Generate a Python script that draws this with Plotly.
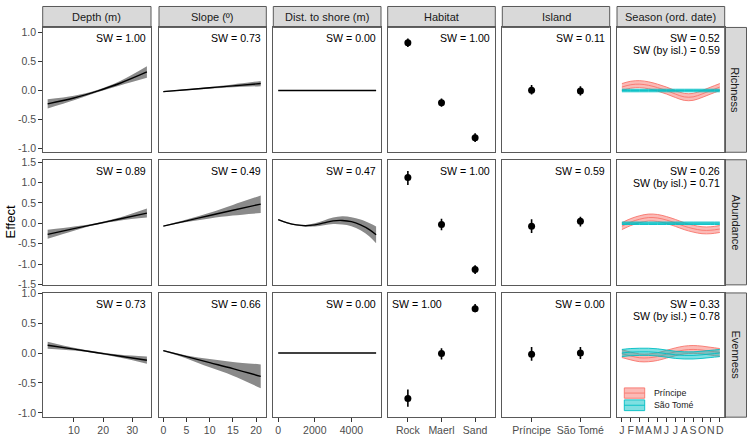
import plotly.graph_objects as go

# ---------------- data ----------------
col_titles = ["Depth (m)", "Slope (º)", "Dist. to shore (m)", "Habitat", "Island", "Season (ord. date)"]
row_titles = ["Richness", "Abundance", "Evenness"]

depth_x = [1, 10, 18, 26, 35]
depth_rich_fit = [-0.23, -0.13, -0.01, 0.13, 0.32]
depth_rich_lo = [-0.31, -0.17, -0.03, 0.09, 0.22]
depth_rich_hi = [-0.15, -0.09, 0.01, 0.17, 0.42]
depth_abund_fit = [-0.27, -0.13, -0.01, 0.11, 0.25]
depth_abund_lo = [-0.38, -0.18, -0.03, 0.07, 0.14]
depth_abund_hi = [-0.16, -0.08, 0.01, 0.15, 0.36]
depth_even_fit = [0.13, 0.065, 0.005, -0.055, -0.12]
depth_even_lo = [0.07, 0.04, -0.01, -0.08, -0.18]
depth_even_hi = [0.19, 0.09, 0.02, -0.03, -0.06]

slope_x = [0, 5, 10, 15, 21]
slope_rich_fit = [-0.02, 0.013, 0.047, 0.08, 0.12]
slope_rich_lo = [-0.03, 0.005, 0.03, 0.055, 0.075]
slope_rich_hi = [-0.01, 0.02, 0.06, 0.105, 0.165]
slope_abund_fit = [-0.07, 0.06, 0.19, 0.32, 0.47]
slope_abund_lo = [-0.08, 0.03, 0.12, 0.19, 0.25]
slope_abund_hi = [-0.06, 0.09, 0.26, 0.45, 0.68]
slope_even_fit = [0.04, -0.06, -0.16, -0.26, -0.39]
slope_even_lo = [0.03, -0.09, -0.24, -0.38, -0.59]
slope_even_hi = [0.05, -0.04, -0.10, -0.15, -0.19]

dist_x = [0, 500, 1000, 1500, 2000, 2500, 3000, 3500, 4000, 4500, 5000, 5350]
dist_rich_fit = [0, 0, 0, 0, 0, 0, 0, 0, 0, 0, 0, 0]
dist_abund_fit = [0.09, 0.01, -0.04, -0.06, -0.04, 0.01, 0.06, 0.07, 0.04, -0.04, -0.16, -0.28]
dist_abund_lo = [0.075, -0.005, -0.055, -0.08, -0.08, -0.05, -0.02, -0.03, -0.07, -0.17, -0.33, -0.49]
dist_abund_hi = [0.105, 0.025, -0.025, -0.04, 0.00, 0.07, 0.14, 0.17, 0.15, 0.09, 0.0, -0.08]
dist_even_fit = [0, 0, 0, 0, 0, 0, 0, 0, 0, 0, 0, 0]

habitat_cats = ["Rock", "Maerl", "Sand"]
hab_rich = [0.825, -0.21, -0.815]
hab_rich_lo = [0.75, -0.28, -0.89]
hab_rich_hi = [0.90, -0.14, -0.74]
hab_abund = [1.12, -0.03, -1.13]
hab_abund_lo = [0.94, -0.17, -1.24]
hab_abund_hi = [1.28, 0.11, -1.03]
hab_even = [-0.76, -0.01, 0.74]
hab_even_lo = [-0.90, -0.11, 0.68]
hab_even_hi = [-0.61, 0.08, 0.82]

island_cats = ["Príncipe", "São Tomé"]
isl_rich = [0.005, -0.01]
isl_rich_lo = [-0.07, -0.085]
isl_rich_hi = [0.095, 0.075]
isl_abund = [-0.07, 0.05]
isl_abund_lo = [-0.24, -0.08]
isl_abund_hi = [0.10, 0.16]
isl_even = [-0.02, 0.0]
isl_even_lo = [-0.13, -0.10]
isl_even_hi = [0.10, 0.10]

month_x = [1, 2, 3, 4, 5, 6, 7, 8, 9, 10, 11, 12]
month_labels = ["J", "F", "M", "A", "M", "J", "J", "A", "S", "O", "N", "D"]
seas_rich_pri = [0.06, 0.10, 0.11, 0.09, 0.05, 0.0, -0.06, -0.11, -0.11, -0.06, 0.0, 0.06]
seas_rich_pri_hw = 0.06
seas_rich_sao = [0, 0, 0, 0, 0, 0, 0, 0, 0, 0, 0, 0]
seas_rich_sao_hw = 0.022
seas_abund_pri = [-0.07, 0.03, 0.10, 0.14, 0.13, 0.08, 0.01, -0.07, -0.13, -0.17, -0.17, -0.14]
seas_abund_pri_hw = 0.085
seas_abund_sao = [0, 0, 0, 0, 0, 0, 0, 0, 0, 0, 0, 0]
seas_abund_sao_hw = 0.03
seas_even_pri = [-0.01, -0.05, -0.08, -0.08, -0.06, -0.02, 0.02, 0.05, 0.06, 0.05, 0.03, 0.01]
seas_even_pri_hw = 0.065
seas_even_sao = [0.0, 0.015, 0.02, 0.02, 0.01, -0.01, -0.03, -0.04, -0.04, -0.03, -0.015, 0.0]
seas_even_sao_hw = 0.06

sw_main = [["SW = 1.00", "SW = 0.73", "SW = 0.00", "SW = 1.00", "SW = 0.11", "SW = 0.52"],
           ["SW = 0.89", "SW = 0.49", "SW = 0.47", "SW = 1.00", "SW = 0.59", "SW = 0.26"],
           ["SW = 0.73", "SW = 0.66", "SW = 0.00", "SW = 1.00", "SW = 0.00", "SW = 0.33"]]
sw_isl = ["SW (by isl.) = 0.59", "SW (by isl.) = 0.71", "SW (by isl.) = 0.78"]

y_tickvals = [[-1.0, -0.5, 0.0, 0.5, 1.0],
              [-1.5, -1.0, -0.5, 0.0, 0.5, 1.0, 1.5],
              [-1.0, -0.5, 0.0, 0.5, 1.0]]
y_ticktext = [["-1.0", "-0.5", "0.0", "0.5", "1.0"],
              ["-1.5", "-1.0", "-0.5", "0.0", "0.5", "1.0", "1.5"],
              ["-1.0", "-0.5", "0.0", "0.5", "1.0"]]
depth_ticks = [10, 20, 30]
slope_ticks = [0, 5, 10, 15, 20]
dist_ticks = [0, 2000, 4000]

# ---------------- layout geometry ----------------
W, H = 747, 440
FONT = "Liberation Sans, Arial, sans-serif"
BORDER = "#595959"
TICKC = "#4D4D4D"
PRI = "#F8766D"
SAO = "#00BFC4"
col_px = [(42.7, 151), (159, 266.3), (273.3, 381), (387.7, 495.3), (502.3, 609.7), (617, 724.7)]
row_px = [(22, 150), (157.7, 286), (294.3, 421.7)]
yranges = [[-1.066, 1.089], [-1.507, 1.555], [-1.072, 1.004]]
xranges = [[-0.7, 36.4], [-0.93, 22.2], [-267, 5617], [-0.6, 2.6], [-0.6, 1.6], [0.45, 12.55]]
x_tickvals = [depth_ticks, slope_ticks, dist_ticks, [0, 1, 2], [0, 1], month_x]
x_ticktext = [[str(v) for v in depth_ticks], [str(v) for v in slope_ticks], [str(v) for v in dist_ticks],
              habitat_cats, island_cats, month_labels]


def fx(p):
    return p / W


def fy(p):
    return 1 - p / H


def ax(k):
    return ("x" if k == 1 else f"x{k}"), ("y" if k == 1 else f"y{k}")


fig = go.Figure()


def add_band(k, x, lo, hi, fit, band_color="#8a8a8a"):
    xa, ya = ax(k)
    if lo is not None:
        fig.add_trace(go.Scatter(x=x, y=lo, mode="lines", line=dict(width=0, shape="spline", color=band_color),
                                 xaxis=xa, yaxis=ya, showlegend=False, hoverinfo="skip"))
        fig.add_trace(go.Scatter(x=x, y=hi, mode="lines", line=dict(width=0, shape="spline", color=band_color),
                                 fill="tonexty", fillcolor=band_color,
                                 xaxis=xa, yaxis=ya, showlegend=False, hoverinfo="skip"))
    fig.add_trace(go.Scatter(x=x, y=fit, mode="lines", line=dict(width=1.4, shape="spline", color="black"),
                             xaxis=xa, yaxis=ya, showlegend=False))


def add_points(k, est, lo, hi):
    xa, ya = ax(k)
    xs = list(range(len(est)))
    fig.add_trace(go.Scatter(x=xs, y=est, mode="markers",
                             marker=dict(size=7, color="black"),
                             error_y=dict(type="data", symmetric=False,
                                          array=[h - e for h, e in zip(hi, est)],
                                          arrayminus=[e - l for e, l in zip(est, lo)],
                                          width=0, thickness=1.6, color="black"),
                             xaxis=xa, yaxis=ya, showlegend=False))


def rgba(hexc, a):
    h = hexc.lstrip("#")
    return f"rgba({int(h[0:2],16)},{int(h[2:4],16)},{int(h[4:6],16)},{a})"


def add_season(k, fit, hw, color):
    xa, ya = ax(k)
    lo = [v - hw for v in fit]
    hi = [v + hw for v in fit]
    fig.add_trace(go.Scatter(x=month_x, y=lo, mode="lines", line=dict(width=1, shape="spline", color=rgba(color, 0.9)),
                             xaxis=xa, yaxis=ya, showlegend=False, hoverinfo="skip"))
    fig.add_trace(go.Scatter(x=month_x, y=hi, mode="lines", line=dict(width=1, shape="spline", color=rgba(color, 0.9)),
                             fill="tonexty", fillcolor=rgba(color, 0.5),
                             xaxis=xa, yaxis=ya, showlegend=False, hoverinfo="skip"))
    fig.add_trace(go.Scatter(x=month_x, y=fit, mode="lines", line=dict(width=1, shape="spline", color=rgba(color, 0.9)),
                             xaxis=xa, yaxis=ya, showlegend=False))


# Row 1 richness
add_band(1, depth_x, depth_rich_lo, depth_rich_hi, depth_rich_fit)
add_band(2, slope_x, slope_rich_lo, slope_rich_hi, slope_rich_fit)
add_band(3, dist_x, None, None, dist_rich_fit)
add_points(4, hab_rich, hab_rich_lo, hab_rich_hi)
add_points(5, isl_rich, isl_rich_lo, isl_rich_hi)
add_season(6, seas_rich_pri, seas_rich_pri_hw, PRI)
add_season(6, seas_rich_sao, seas_rich_sao_hw, SAO)
# Row 2 abundance
add_band(7, depth_x, depth_abund_lo, depth_abund_hi, depth_abund_fit)
add_band(8, slope_x, slope_abund_lo, slope_abund_hi, slope_abund_fit)
add_band(9, dist_x, dist_abund_lo, dist_abund_hi, dist_abund_fit)
add_points(10, hab_abund, hab_abund_lo, hab_abund_hi)
add_points(11, isl_abund, isl_abund_lo, isl_abund_hi)
add_season(12, seas_abund_pri, seas_abund_pri_hw, PRI)
add_season(12, seas_abund_sao, seas_abund_sao_hw, SAO)
# Row 3 evenness
add_band(13, depth_x, depth_even_lo, depth_even_hi, depth_even_fit)
add_band(14, slope_x, slope_even_lo, slope_even_hi, slope_even_fit)
add_band(15, dist_x, None, None, dist_even_fit)
add_points(16, hab_even, hab_even_lo, hab_even_hi)
add_points(17, isl_even, isl_even_lo, isl_even_hi)
add_season(18, seas_even_pri, seas_even_pri_hw, PRI)
add_season(18, seas_even_sao, seas_even_sao_hw, SAO)

layout = dict(width=W, height=H, margin=dict(l=0, r=0, t=0, b=0),
              plot_bgcolor="white", paper_bgcolor="white", hovermode=False,
              font=dict(family=FONT, color="#1A1A1A"), showlegend=False)

shapes = []
annotations = []
for r in range(3):
    for c in range(6):
        k = r * 6 + c + 1
        xname = "xaxis" if k == 1 else f"xaxis{k}"
        yname = "yaxis" if k == 1 else f"yaxis{k}"
        xa, ya = ax(k)
        layout[xname] = dict(domain=[fx(col_px[c][0]), fx(col_px[c][1])], range=xranges[c], anchor=ya,
                             showgrid=False, zeroline=False, showline=True, mirror=True,
                             linecolor=BORDER, linewidth=1,
                             ticks="outside" if r == 2 else "", ticklen=3.5, tickcolor="#333333", tickwidth=1,
                             showticklabels=(r == 2), tickmode="array", tickangle=0,
                             tickvals=x_tickvals[c], ticktext=x_ticktext[c],
                             tickfont=dict(size=10.5, color=TICKC, family=FONT))
        layout[yname] = dict(domain=[fy(row_px[r][1]), fy(row_px[r][0])], range=yranges[r], anchor=xa,
                             showgrid=False, zeroline=False, showline=True, mirror=True,
                             linecolor=BORDER, linewidth=1,
                             ticks="outside" if c == 0 else "", ticklen=3.5, tickcolor="#333333", tickwidth=1,
                             showticklabels=(c == 0), tickmode="array",
                             tickvals=y_tickvals[r], ticktext=y_ticktext[r],
                             tickfont=dict(size=10.5, color=TICKC, family=FONT))
        # SW labels
        if r == 2 and c == 3:
            annotations.append(dict(text=sw_main[r][c], xref=f"{xa} domain", yref=f"{ya} domain",
                                    x=0, y=1, xanchor="left", yanchor="top", xshift=2, yshift=-3,
                                    showarrow=False, font=dict(size=10.6, color="black", family=FONT)))
        else:
            annotations.append(dict(text=sw_main[r][c], xref=f"{xa} domain", yref=f"{ya} domain",
                                    x=1, y=1, xanchor="right", yanchor="top", xshift=-3, yshift=-3,
                                    showarrow=False, font=dict(size=10.6, color="black", family=FONT)))
        if c == 5:
            annotations.append(dict(text=sw_isl[r], xref=f"{xa} domain", yref=f"{ya} domain",
                                    x=1, y=1, xanchor="right", yanchor="top", xshift=-3, yshift=-15,
                                    showarrow=False, font=dict(size=10.6, color="black", family=FONT)))

# top strips
for c in range(6):
    shapes.append(dict(type="rect", xref="paper", yref="paper",
                       x0=fx(col_px[c][0]), x1=fx(col_px[c][1]), y0=fy(22), y1=fy(0.5),
                       fillcolor="#D9D9D9", line=dict(color=BORDER, width=1), layer="below"))
    annotations.append(dict(text=col_titles[c], xref="paper", yref="paper",
                            x=fx((col_px[c][0] + col_px[c][1]) / 2), y=fy(11.5),
                            xanchor="center", yanchor="middle", showarrow=False,
                            font=dict(size=11, color="#1A1A1A", family=FONT)))
# right strips
for r in range(3):
    shapes.append(dict(type="rect", xref="paper", yref="paper",
                       x0=fx(724.7), x1=fx(746.5), y0=fy(row_px[r][1]), y1=fy(row_px[r][0]),
                       fillcolor="#D9D9D9", line=dict(color=BORDER, width=1), layer="below"))
    annotations.append(dict(text=row_titles[r], xref="paper", yref="paper",
                            x=fx(735.6), y=fy((row_px[r][0] + row_px[r][1]) / 2),
                            xanchor="center", yanchor="middle", showarrow=False, textangle=90,
                            font=dict(size=11, color="#1A1A1A", family=FONT)))

# y-axis title
annotations.append(dict(text="Effect", xref="paper", yref="paper", x=fx(10), y=fy(222),
                        xanchor="center", yanchor="middle", showarrow=False, textangle=-90,
                        font=dict(size=13, color="black", family=FONT)))

# legend inside evenness season panel
leg = [("Príncipe", PRI, 391.7, 402.3), ("São Tomé", SAO, 404.0, 415.0)]
for name, colr, y0, y1 in leg:
    shapes.append(dict(type="rect", xref="paper", yref="paper", x0=fx(624.3), x1=fx(644.7),
                       y0=fy(y1), y1=fy(y0), fillcolor=rgba(colr, 0.5),
                       line=dict(color=rgba(colr, 0.9), width=1)))
    shapes.append(dict(type="line", xref="paper", yref="paper", x0=fx(624.3), x1=fx(644.7),
                       y0=fy((y0 + y1) / 2), y1=fy((y0 + y1) / 2), line=dict(color=rgba(colr, 0.9), width=1)))
    annotations.append(dict(text=name, xref="paper", yref="paper", x=fx(651.5), y=fy((y0 + y1) / 2),
                            xanchor="left", yanchor="middle", showarrow=False,
                            font=dict(size=8.8, color="#1A1A1A", family=FONT)))

layout["shapes"] = shapes
layout["annotations"] = annotations
fig.update_layout(**layout)
fig.write_html("out.html", config={"displayModeBar": False, "staticPlot": True},
               post_script="document.body.style.margin='0';document.body.style.padding='0';"
                           "document.body.style.overflow='hidden';")
